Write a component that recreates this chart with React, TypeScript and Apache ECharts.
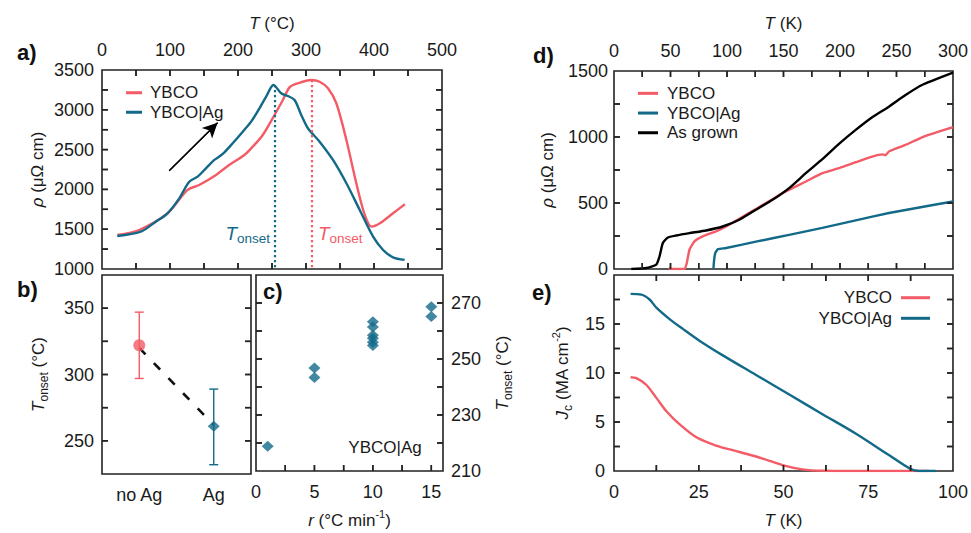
import React, { useEffect, useRef } from "react";
import * as echarts from "echarts";

// ---------- data ----------
// panel a: resistivity vs temperature (°C)
const aT_YBCO = [22.6, 54.6, 96.4, 125.8, 143, 167.7, 187, 209.4, 221.7, 236.4, 253.7, 266, 275.8, 288, 307.8, 320, 332.3, 344.6, 359.4, 374, 386.4, 396.3, 408.6, 428, 445.4];
const aRho_YBCO = [1428, 1490, 1700, 1993, 2056, 2181, 2307, 2432, 2537, 2684, 2935, 3123, 3282, 3333, 3374, 3353, 3270, 3082, 2621, 2077, 1679, 1532, 1574, 1700, 1813];
const aT_Ag = [22.6, 57, 79, 96.4, 113.6, 128.3, 140.6, 152.9, 165.2, 177.5, 192.2, 207, 219.3, 231.6, 241.4, 252.2, 263.5, 273.3, 283.2, 293, 302.8, 320, 339.7, 359.4, 379, 398.7, 413.4, 428, 445];
const aRho_Ag = [1415, 1469, 1595, 1700, 1888, 2097, 2160, 2265, 2370, 2445, 2580, 2725, 2851, 3019, 3165, 3312, 3207, 3173, 3123, 2935, 2768, 2600, 2370, 2077, 1742, 1406, 1239, 1147, 1114];
const aOnset = { YBCO: [307.8, 3374], Ag: [254, 3312] };
const aArrow = [[98.8, 2235], [170, 2838]];

// panel b: T_onset per sample type
const bCats = ["no Ag", "Ag"];
const bMean = [322, 261];
const bLow = [297, 232];
const bHigh = [347, 289];
const bTrend = [320, 262];

// panel c: T_onset vs heating rate
const cRate = [1, 5, 5, 10, 10, 10, 10, 10, 10, 15, 15];
const cTonset = [218.8, 246.8, 243.4, 263.3, 261.4, 258.5, 257.4, 256.0, 254.8, 268.7, 265.2];

// panel d: resistivity vs temperature (K)
const dT_grown = [15.3, 28.6, 37.4, 40.3, 43.2, 47.6, 55, 66.8, 81.5, 96.2, 110.9, 125.6, 140.3, 155, 169.8, 184.4, 199.1, 213.9, 228.5, 243.3, 258, 272.6, 300];
const dRho_grown = [0, 8, 33, 95, 197, 239, 254, 272, 292, 322, 373, 449, 524, 613, 726, 832, 948, 1054, 1150, 1230, 1318, 1394, 1487];
const dT_YBCO = [48.5, 50, 62.4, 64.4, 66.8, 71.2, 78.5, 90.3, 99.2, 110.9, 125.6, 140.3, 149, 169.8, 184.4, 199.1, 213.9, 228.5, 238, 240.3, 243.3, 258, 272.6, 287.4, 300];
const dRho_YBCO = [10, 0, 0, 45, 146, 209, 247, 285, 322, 380, 455, 528, 575, 663, 726, 764, 809, 852, 868, 862, 890, 940, 998, 1041, 1074];
const dT_Ag = [88, 88.5, 89.6, 92, 99.2, 125.6, 155, 184.4, 213.9, 243.3, 272.6, 300];
const dRho_Ag = [0, 60, 121, 150, 159, 207, 259, 311, 368, 424, 470, 511];

// panel e: critical current density vs temperature (K)
const eT_Ag = [4.9, 8.1, 10.5, 12.5, 16.4, 20.3, 25.2, 32.1, 41.9, 51.7, 61.5, 71.4, 81.2, 87.5, 90, 94.9];
const eJc_Ag = [18.07, 18.0, 17.5, 16.67, 15.5, 14.5, 13.3, 11.8, 9.8, 7.8, 5.8, 3.8, 1.6, 0.2, 0, 0];
const eT_YBCO = [4.9, 6.6, 9.5, 12.5, 15.4, 19.3, 24.3, 30.1, 37, 43.9, 49.7, 55.6, 61.5, 70, 80, 93];
const eJc_YBCO = [9.57, 9.47, 8.8, 7.46, 6.12, 4.78, 3.44, 2.6, 1.94, 1.27, 0.6, 0.16, 0.02, 0, 0, 0];

// ---------- style ----------
const RED = "#f35b67";
const BLUE = "#136a88";
const AX = "#222222";
const TXT = "#1a1a1a";
const FONT = "'Liberation Sans', Arial, Helvetica, sans-serif";
const TICK_LEN = 6;
const TICK_W = 1.5;

const zip = (xs: number[], ys: number[]) => xs.map((x, i) => [x, ys[i]]);
const steps = (min: number, max: number, step: number) => {
  const out: number[] = [];
  for (let k = 0; min + k * step <= max + 1e-9; k++) out.push(min + k * step);
  return out;
};

const nameStyle = {
  fontSize: 17,
  color: TXT,
  lineHeight: 24,
  fontFamily: FONT,
  rich: {
    i: { fontStyle: "italic", fontSize: 17, lineHeight: 24, color: TXT, fontFamily: FONT },
    sub: { fontSize: 12, lineHeight: 12, verticalAlign: "bottom", color: TXT, fontFamily: FONT },
    sup: { fontSize: 11, lineHeight: 11, verticalAlign: "top", color: TXT, fontFamily: FONT },
  },
};

function vAxis(gridIndex: number, min: number, max: number, interval: number, extra: any = {}) {
  const { label, ...rest } = extra;
  return {
    type: "value",
    gridIndex,
    min,
    max,
    interval,
    axisLine: { show: false, onZero: false },
    splitLine: { show: false },
    axisTick: { show: false },
    axisLabel: { show: true, fontSize: 18, color: TXT, fontFamily: FONT, ...label },
    nameTextStyle: nameStyle,
    nameLocation: "middle",
    ...rest,
  };
}

const every = (step: number, base = 0, maxExcl = Infinity) => (v: number) =>
  Math.abs(((v - base) / step) - Math.round((v - base) / step)) < 1e-6 && v < maxExcl ? String(v) : "";

function lineSeries(name: string, data: number[][], color: string, xi: number, yi: number, extra: any = {}) {
  return {
    type: "line",
    name,
    data,
    xAxisIndex: xi,
    yAxisIndex: yi,
    showSymbol: false,
    symbol: "none",
    smooth: 0.3,
    itemStyle: { color },
    lineStyle: { color, width: 2.4 },
    z: 3,
    ...extra,
  };
}

// tick layout per panel (axis values; pixel positions come from the chart's own scales)
const tickSpecs = [
  { grid: 0, xr: [0, 500], yr: [1000, 3500], xt: steps(0, 500, 50), yt: steps(1000, 3500, 250), sides: { top: true, bottom: true, left: true, right: true } },
  { grid: 1, xr: [-0.5, 1.5], yr: [225, 375], xt: [] as number[], yt: steps(225, 375, 25), sides: { left: true, right: true } },
  { grid: 2, xr: [0, 16], yr: [210, 280], xt: steps(0, 15, 2.5), yt: steps(210, 280, 10), sides: { bottom: true, left: true, right: true } },
  { grid: 3, xr: [0, 300], yr: [0, 1500], xt: steps(0, 300, 25), yt: steps(0, 1500, 250), sides: { top: true, bottom: true, left: true, right: true } },
  { grid: 4, xr: [0, 100], yr: [0, 20], xt: steps(0, 100, 12.5), yt: steps(0, 20, 2.5), sides: { top: true, bottom: true, left: true, right: true } },
];

// ticks as thin filled rectangles from a custom series (positions via api.coord)
function tickSeries(s: (typeof tickSpecs)[number]) {
  const xs = s.xt.filter((v) => v > s.xr[0] + 1e-9 && v < s.xr[1] - 1e-9);
  const ys = s.yt.filter((v) => v > s.yr[0] + 1e-9 && v < s.yr[1] - 1e-9);
  return {
    type: "custom",
    name: "ticks-" + s.grid,
    xAxisIndex: s.grid,
    yAxisIndex: s.grid,
    z: 20,
    silent: true,
    encode: { x: 0, y: 1 },
    data: [...xs.map((v) => [v, s.yr[0], 0]), ...ys.map((v) => [s.xr[0], v, 1])],
    renderItem: (params: any, api: any) => {
      const kind = api.value(2);
      const lo = api.coord([s.xr[0], s.yr[0]]);
      const hi = api.coord([s.xr[1], s.yr[1]]);
      const kids: any[] = [];
      if (kind === 0) {
        const x = api.coord([api.value(0), s.yr[0]])[0];
        if (s.sides.bottom) kids.push({ type: "rect", shape: { x: x - TICK_W / 2, y: lo[1] - TICK_LEN, width: TICK_W, height: TICK_LEN }, style: { fill: AX } });
        if (s.sides.top) kids.push({ type: "rect", shape: { x: x - TICK_W / 2, y: hi[1], width: TICK_W, height: TICK_LEN }, style: { fill: AX } });
      } else {
        const y = api.coord([s.xr[0], api.value(1)])[1];
        if (s.sides.left) kids.push({ type: "rect", shape: { x: lo[0], y: y - TICK_W / 2, width: TICK_LEN, height: TICK_W }, style: { fill: AX } });
        if (s.sides.right) kids.push({ type: "rect", shape: { x: hi[0] - TICK_LEN, y: y - TICK_W / 2, width: TICK_LEN, height: TICK_W }, style: { fill: AX } });
      }
      return { type: "group", children: kids };
    },
  };
}

export default function App() {
  const ref = useRef<HTMLDivElement>(null);
  useEffect(() => {
    document.body.style.margin = "0";
    const chart = echarts.init(ref.current!, null, { renderer: "svg" });
    const gridBox = { show: true, borderColor: AX, borderWidth: 1.6, backgroundColor: "transparent", containLabel: false };

    const baseGraphic: any[] = [
      ...[
        ["a)", 17, 52],
        ["b)", 17, 289],
        ["c)", 263, 291],
        ["d)", 533, 55],
        ["e)", 532, 292],
      ].map(([t, x, y]) => ({
        type: "text", x, y,
        style: { text: t, font: `bold 22px ${FONT}`, fill: "#111", verticalAlign: "middle", textVerticalAlign: "middle" },
      })),
      {
        type: "text", x: 385, y: 447,
        style: { text: "YBCO|Ag", font: `17px ${FONT}`, fill: TXT, align: "center", textAlign: "center", verticalAlign: "middle", textVerticalAlign: "middle" },
      },
      {
        type: "text", x: 270, y: 233,
        style: {
          text: "{i|T}{s|onset}", fill: BLUE, align: "right", textAlign: "right", verticalAlign: "middle", textVerticalAlign: "middle",
          rich: {
            i: { fontSize: 19, fontStyle: "italic", fontFamily: FONT, fill: BLUE, lineHeight: 24 },
            s: { fontSize: 13.5, fontFamily: FONT, fill: BLUE, lineHeight: 15, verticalAlign: "bottom" },
          },
        },
      },
      {
        type: "text", x: 318, y: 233,
        style: {
          text: "{i|T}{s|onset}", fill: RED, align: "left", textAlign: "left", verticalAlign: "middle", textVerticalAlign: "middle",
          rich: {
            i: { fontSize: 19, fontStyle: "italic", fontFamily: FONT, fill: RED, lineHeight: 24 },
            s: { fontSize: 13.5, fontFamily: FONT, fill: RED, lineHeight: 15, verticalAlign: "bottom" },
          },
        },
      },
    ];

    const option: any = {
      animation: false,
      textStyle: { fontFamily: FONT },
      grid: [
        { ...gridBox, left: 102, top: 70, width: 340, height: 199 },
        { ...gridBox, left: 102, top: 275, width: 149, height: 199 },
        { ...gridBox, left: 256, top: 275, width: 187, height: 199 },
        { ...gridBox, left: 614, top: 71, width: 340, height: 198 },
        { ...gridBox, left: 614, top: 275, width: 340, height: 199 },
      ],
      xAxis: [
        vAxis(0, 0, 500, 50, { position: "top", label: { margin: 11, formatter: every(100) }, name: "{i|T} (°C)", nameGap: 35 }),
        vAxis(1, -0.5, 1.5, 0.5, {
          position: "bottom",
          label: { margin: 12, formatter: (v: number) => (Number.isInteger(v) && bCats[v] ? bCats[v] : "") },
        }),
        vAxis(2, 0, 16, 2.5, { position: "bottom", label: { margin: 12, formatter: every(5) }, name: "{i|r} (°C min{sup|-1})", nameGap: 37 }),
        vAxis(3, 0, 300, 25, { position: "top", label: { margin: 11, formatter: every(50) }, name: "{i|T} (K)", nameGap: 36 }),
        vAxis(4, 0, 100, 12.5, { position: "bottom", label: { margin: 12, formatter: every(25) }, name: "{i|T} (K)", nameGap: 37 }),
      ],
      yAxis: [
        vAxis(0, 1000, 3500, 250, { position: "left", label: { margin: 8, formatter: every(500) }, name: "{i|ρ} (μΩ cm)", nameGap: 53 }),
        vAxis(1, 225, 375, 25, { position: "left", label: { margin: 8, formatter: every(50) }, name: "{i|T}{sub|onset} (°C)", nameGap: 52 }),
        vAxis(2, 210, 280, 10, { position: "right", label: { margin: 8, formatter: every(20, 210) }, name: "{i|T}{sub|onset} (°C)", nameGap: 47, nameRotate: 90 }),
        vAxis(3, 0, 1500, 250, { position: "left", label: { margin: 6, formatter: every(500) }, name: "{i|ρ} (μΩ cm)", nameGap: 55 }),
        vAxis(4, 0, 20, 2.5, { position: "left", label: { margin: 9, formatter: every(5, 0, 20) }, name: "{i|J}{sub|c} (MA cm{sup|-2})", nameGap: 40 }),
      ],
      legend: [
        {
          orient: "vertical", left: 121, top: 78, itemWidth: 16, itemHeight: 3, itemGap: 0, icon: "rect",
          selectedMode: false, data: ["YBCO", "YBCO|Ag"],
          textStyle: { fontSize: 17, lineHeight: 19.5, color: TXT, padding: [0, 0, 0, 3], fontFamily: FONT },
        },
        {
          orient: "vertical", left: 633, top: 78.5, itemWidth: 20, itemHeight: 3, itemGap: 0, icon: "rect",
          selectedMode: false, data: ["YBCO", "YBCO|Ag", "As grown"],
          textStyle: { fontSize: 17, lineHeight: 19.7, color: TXT, padding: [0, 0, 0, 4], fontFamily: FONT },
        },
        {
          orient: "vertical", right: 36, top: 282.4, itemWidth: 29, itemHeight: 3, itemGap: 0, icon: "rect", align: "right",
          selectedMode: false, data: ["YBCO", "YBCO|Ag"],
          textStyle: { fontSize: 17, lineHeight: 20.6, color: TXT, padding: [0, 4, 0, 0], fontFamily: FONT },
        },
      ],
      series: [
        // panel a
        lineSeries("YBCO", zip(aT_YBCO, aRho_YBCO), RED, 0, 0, {
          markLine: {
            silent: true, symbol: ["none", "none"], label: { show: false },
            lineStyle: { color: RED, type: [2.2, 2.8], width: 2.2 },
            data: [[{ coord: aOnset.YBCO }, { coord: [aOnset.YBCO[0], 1000] }]],
          },
        }),
        lineSeries("YBCO|Ag", zip(aT_Ag, aRho_Ag), BLUE, 0, 0, {
          markLine: {
            silent: true, symbol: ["none", "none"], label: { show: false },
            lineStyle: { color: BLUE, type: [2.2, 2.8], width: 2.2 },
            data: [[{ coord: aOnset.Ag }, { coord: [aOnset.Ag[0], 1000] }]],
          },
        }),
        {
          type: "line", name: "arrow", xAxisIndex: 0, yAxisIndex: 0, data: aArrow, showSymbol: false, symbol: "none",
          lineStyle: { color: "#000", width: 1.3 }, itemStyle: { color: "#000" }, z: 4,
          markLine: {
            silent: true, symbol: ["none", "arrow"], symbolSize: [11, 15], label: { show: false },
            lineStyle: { color: "#000", width: 1.3, type: "solid" },
            data: [[{ coord: aArrow[0] }, { coord: aArrow[1] }]],
          },
        },
        // panel b
        {
          type: "line", name: "trend", xAxisIndex: 1, yAxisIndex: 1, data: bTrend.map((v, i) => [i, v]),
          showSymbol: false, symbol: "none", lineStyle: { color: "#111", width: 2.6, type: [9, 12] }, z: 1,
        },
        {
          type: "custom", name: "err", xAxisIndex: 1, yAxisIndex: 1,
          data: bCats.map((_, i) => [i, bLow[i], bHigh[i]]),
          encode: { x: 0, y: [1, 2] },
          z: 2,
          renderItem: (params: any, api: any) => {
            const x = api.value(0);
            const p1 = api.coord([x, api.value(1)]);
            const p2 = api.coord([x, api.value(2)]);
            const c = [RED, BLUE][params.dataIndex];
            const w = 4.5;
            return {
              type: "group",
              children: [
                { type: "line", shape: { x1: p1[0], y1: p1[1], x2: p2[0], y2: p2[1] }, style: { stroke: c, lineWidth: 1.4 } },
                { type: "line", shape: { x1: p1[0] - w, y1: p1[1], x2: p1[0] + w, y2: p1[1] }, style: { stroke: c, lineWidth: 1.4 } },
                { type: "line", shape: { x1: p2[0] - w, y1: p2[1], x2: p2[0] + w, y2: p2[1] }, style: { stroke: c, lineWidth: 1.4 } },
              ],
            };
          },
        },
        {
          type: "scatter", name: "bpts", xAxisIndex: 1, yAxisIndex: 1, z: 3,
          data: bMean.map((v, i) => ({
            value: [i, v],
            symbol: ["circle", "diamond"][i],
            symbolSize: [[12, 12], [12, 11]][i],
            itemStyle: { color: [RED, BLUE][i] },
          })),
        },
        // panel c
        {
          type: "scatter", name: "cpts", xAxisIndex: 2, yAxisIndex: 2, symbol: "diamond", symbolSize: [12, 11],
          itemStyle: { color: BLUE }, data: zip(cRate, cTonset),
        },
        // panel d
        lineSeries("YBCO", zip(dT_YBCO, dRho_YBCO), RED, 3, 3, { smooth: 0.15 }),
        lineSeries("YBCO|Ag", zip(dT_Ag, dRho_Ag), BLUE, 3, 3, { smooth: 0.15 }),
        lineSeries("As grown", zip(dT_grown, dRho_grown), "#000", 3, 3, { smooth: 0.15 }),
        // panel e
        lineSeries("YBCO", zip(eT_YBCO, eJc_YBCO), RED, 4, 4),
        lineSeries("YBCO|Ag", zip(eT_Ag, eJc_Ag), BLUE, 4, 4),
        // inward ticks
        ...tickSpecs.map(tickSeries),
      ],
      graphic: baseGraphic,
    };
    chart.setOption(option);

    // second route for the same ticks: graphic rectangles positioned by the chart's scales
    try {
      const tickEls: any[] = [];
      tickSpecs.forEach((s) => {
        const finder = { gridIndex: s.grid };
        const lo = chart.convertToPixel(finder, [s.xr[0], s.yr[0]]) as number[];
        const hi = chart.convertToPixel(finder, [s.xr[1], s.yr[1]]) as number[];
        if (!lo || !hi) return;
        s.xt.filter((v) => v > s.xr[0] + 1e-9 && v < s.xr[1] - 1e-9).forEach((v) => {
          const px = (chart.convertToPixel(finder, [v, s.yr[0]]) as number[])[0];
          if (s.sides.bottom) tickEls.push({ type: "rect", silent: true, z: 50, shape: { x: px - TICK_W / 2, y: lo[1] - TICK_LEN, width: TICK_W, height: TICK_LEN }, style: { fill: AX } });
          if (s.sides.top) tickEls.push({ type: "rect", silent: true, z: 50, shape: { x: px - TICK_W / 2, y: hi[1], width: TICK_W, height: TICK_LEN }, style: { fill: AX } });
        });
        s.yt.filter((v) => v > s.yr[0] + 1e-9 && v < s.yr[1] - 1e-9).forEach((v) => {
          const py = (chart.convertToPixel(finder, [s.xr[0], v]) as number[])[1];
          if (s.sides.left) tickEls.push({ type: "rect", silent: true, z: 50, shape: { x: lo[0], y: py - TICK_W / 2, width: TICK_LEN, height: TICK_W }, style: { fill: AX } });
          if (s.sides.right) tickEls.push({ type: "rect", silent: true, z: 50, shape: { x: hi[0] - TICK_LEN, y: py - TICK_W / 2, width: TICK_LEN, height: TICK_W }, style: { fill: AX } });
        });
      });
      chart.setOption({ graphic: [...baseGraphic, ...tickEls] });
    } catch (e) {
      // keep the chart as drawn if conversion fails
    }
    return () => chart.dispose();
  }, []);
  return <div ref={ref} style={{ position: "absolute", left: 0, top: 0, width: 971, height: 533 }} />;
}
